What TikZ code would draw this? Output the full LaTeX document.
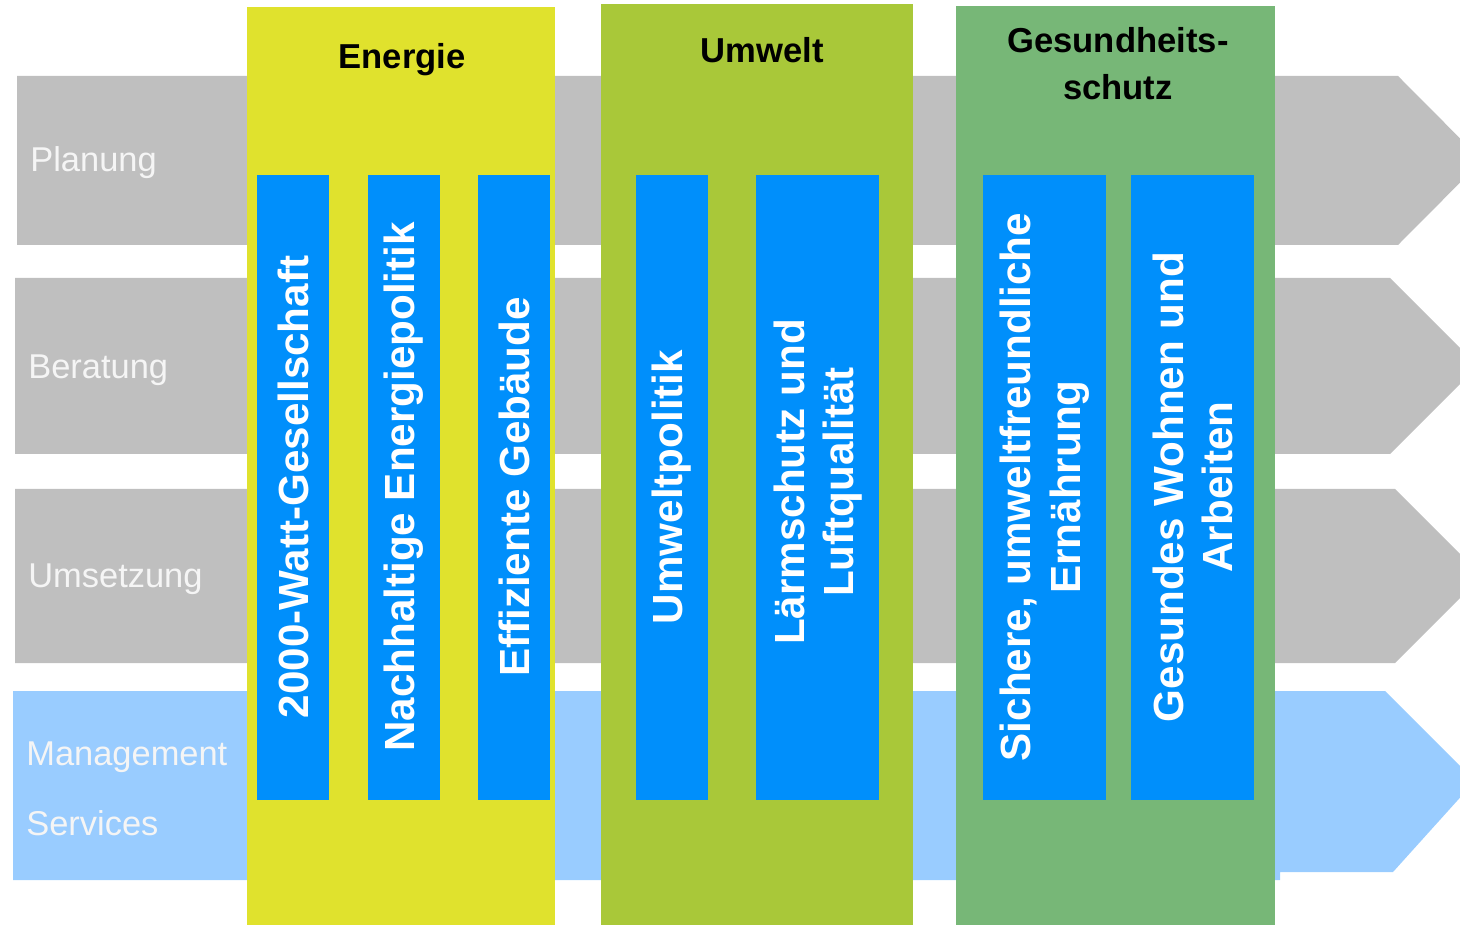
\documentclass[tikz,border=0pt]{standalone}
\usepackage{fontspec}
\setmainfont{Liberation Sans}
\definecolor{bandgray}{HTML}{BFBFBF}
\definecolor{bandblue}{HTML}{99CCFF}
\definecolor{colyellow}{HTML}{E0E22D}
\definecolor{cololive}{HTML}{A9C839}
\definecolor{colgreen}{HTML}{77B777}
\definecolor{boxblue}{HTML}{008FFB}
\tikzset{
  rowlabel/.style={anchor=west, inner sep=0pt, text=white!96!black, font=\fontsize{19.6}{39.7}\selectfont, align=left},
  colhead/.style={inner sep=0pt, text=black, font=\bfseries\fontsize{19.7}{26.6}\selectfont, align=center},
  topicbox/.style={fill=boxblue, draw=none},
  topictext/.style={rotate=90, inner sep=0pt, text=white, font=\bfseries\fontsize{24}{28.3}\selectfont, align=center},
}
\begin{document}
\begin{tikzpicture}[x=0.02cm, y=-0.02cm]
\useasboundingbox (0,0) rectangle (1460,925);
\clip (0,0) rectangle (1460,925);
% row bands
\fill[bandgray] (17,76) -- (1398,76) -- (1482,160.5) -- (1398,245) -- (17,245) -- cycle;
\fill[bandgray] (15,278) -- (1390,278) -- (1478,366) -- (1390,454) -- (15,454) -- cycle;
\fill[bandgray] (15,489) -- (1395,489) -- (1482,576) -- (1395,663) -- (15,663) -- cycle;
\fill[bandblue] (13,691) -- (1385,691) -- (1475,781) -- (1393,872) -- (1280,872) -- (1280,880) -- (13,880) -- cycle;
\node[rowlabel] (planung) at (30,163) {Planung};
\node[rowlabel] (beratung) at (28,370) {Beratung};
\node[rowlabel] (umsetzung) at (28,579) {Umsetzung};
\node[rowlabel] (mgmt) at (26,789) {Management\\Services};
% columns
\fill[colyellow] (247,7) rectangle (555,925);
\fill[cololive] (601,4) rectangle (913,925);
\fill[colgreen] (956,6) rectangle (1275,925);
\node[colhead] (energie) at (402,60) {Energie};
\node[colhead] (umwelt) at (762,50) {Umwelt};
\node[colhead] (gesund) at (1118,64) {Gesundheits-\\schutz};
% topic boxes
\fill[topicbox] (257,175) rectangle (329,800);
\fill[topicbox] (368,175) rectangle (440,800);
\fill[topicbox] (478,175) rectangle (550,800);
\fill[topicbox] (636,175) rectangle (708,800);
\fill[topicbox] (756,175) rectangle (879,800);
\fill[topicbox] (983,175) rectangle (1106,800);
\fill[topicbox] (1131,175) rectangle (1254,800);
\node[topictext] (t1) at (293,487) {2000-Watt-Gesellschaft};
\node[topictext] (t2) at (404,487) {Nachhaltige Energiepolitik};
\node[topictext] (t3) at (514,487) {Effiziente Gebäude};
\node[topictext] (t4) at (672,487) {Umweltpolitik};
\node[topictext] (t5) at (818,482) {Lärmschutz und\\Luftqualität};
\node[topictext] (t6) at (1045,487) {Sichere, umweltfreundliche\\Ernährung};
\node[topictext] (t7) at (1193,487) {Gesundes Wohnen und\\Arbeiten};
\end{tikzpicture}
\end{document}
